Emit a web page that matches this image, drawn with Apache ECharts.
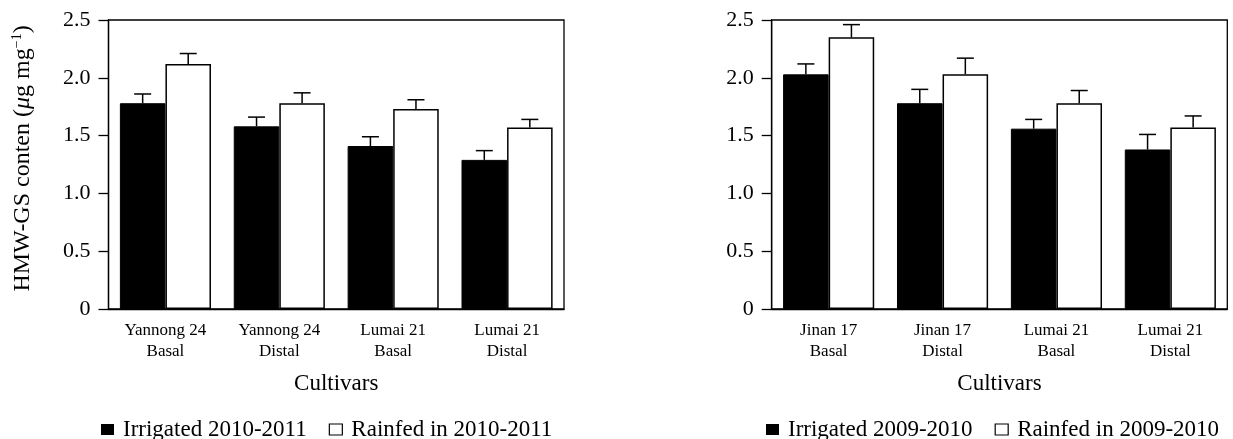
<!DOCTYPE html>
<html>
<head>
<meta charset="utf-8">
<script src="https://cdn.jsdelivr.net/npm/echarts@6/dist/echarts.min.js"></script>
<style>
html,body{margin:0;padding:0;background:#fff;}
#chart{width:1233px;height:439px;}
</style>
</head>
<body>
<div id="chart"></div>
<script>
// ---- data ----
const categoriesLeft = ['Yannong 24\nBasal', 'Yannong 24\nDistal', 'Lumai 21\nBasal', 'Lumai 21\nDistal'];
const categoriesRight = ['Jinan 17\nBasal', 'Jinan 17\nDistal', 'Lumai 21\nBasal', 'Lumai 21\nDistal'];
const yTickLabels = ['0', '0.5', '1.0', '1.5', '2.0', '2.5'];

const seriesNamesLeft = ['Irrigated 2010-2011', 'Rainfed in 2010-2011'];
const seriesNamesRight = ['Irrigated 2009-2010', 'Rainfed in 2009-2010'];

const irrigatedLeft = [1.78, 1.58, 1.41, 1.29];
const irrigatedLeftErr = [0.08, 0.08, 0.08, 0.08];
const rainfedLeft = [2.12, 1.78, 1.73, 1.57];
const rainfedLeftErr = [0.09, 0.09, 0.08, 0.07];

const irrigatedRight = [2.03, 1.78, 1.56, 1.38];
const irrigatedRightErr = [0.09, 0.12, 0.08, 0.13];
const rainfedRight = [2.35, 2.03, 1.78, 1.57];
const rainfedRightErr = [0.11, 0.14, 0.11, 0.10];

// ---- chart ----
const FONT = 'Liberation Serif';
const chart = echarts.init(document.getElementById('chart'), null, {renderer: 'canvas'});

function errRender(sign) {
  return function (params, api) {
    const i = api.value(0), v = api.value(1), e = api.value(2);
    const base = api.coord([i, v]);
    const top = api.coord([i, v + e]);
    const band = api.size([1, 0])[0];
    const x = base[0] + sign * band * 0.2;
    const half = 8.5;
    const st = {stroke: '#000', lineWidth: 1.5};
    return {
      type: 'group',
      children: [
        {type: 'line', shape: {x1: x, y1: base[1], x2: x, y2: top[1]}, style: st},
        {type: 'line', shape: {x1: x - half, y1: top[1], x2: x + half, y2: top[1]}, style: st}
      ]
    };
  };
}
function errData(vals, errs) { return vals.map((v, i) => [i, v, errs[i]]); }

function yAxisCfg(gridIndex, withName) {
  const cfg = {
    type: 'value', gridIndex: gridIndex, min: 0, max: 2.5, interval: 0.5,
    axisLine: {show: true, lineStyle: {color: '#000', width: 1.3}},
    axisTick: {show: true, length: 10, lineStyle: {color: '#000', width: 1.3}},
    splitLine: {show: false},
    axisLabel: {
      color: '#000', fontFamily: FONT, fontSize: 22, margin: 18,
      formatter: function (v) { return yTickLabels[Math.round(v / 0.5)]; }
    }
  };
  if (withName) {
    cfg.name = 'HMW-GS conten ({i|μ}g mg{sup|−1})';
    cfg.nameLocation = 'middle';
    cfg.nameGap = 72;
    cfg.nameTextStyle = {
      color: '#000', fontFamily: FONT, fontSize: 24, lineHeight: 28,
      padding: [0, 0, 0, 12],
      rich: {
        i: {fontFamily: FONT, fontSize: 24, fontStyle: 'italic', color: '#000', lineHeight: 28},
        sup: {fontFamily: FONT, fontSize: 14, color: '#000', lineHeight: 28, padding: [0, 0, 10, 0]}
      }
    };
  }
  return cfg;
}
function xAxisCfg(gridIndex, cats) {
  return {
    type: 'category', gridIndex: gridIndex, data: cats,
    axisLine: {show: true, lineStyle: {color: '#000', width: 1.3}},
    axisTick: {show: false},
    axisLabel: {color: '#000', fontFamily: FONT, fontSize: 17, lineHeight: 21, margin: 11, interval: 0},
    name: 'Cultivars', nameLocation: 'middle', nameGap: 63,
    nameTextStyle: {color: '#000', fontFamily: FONT, fontSize: 23}
  };
}
function barSeries(name, data, idx, filled) {
  return {
    name: name, type: 'bar', xAxisIndex: idx, yAxisIndex: idx, data: data,
    barWidth: '40%', barGap: '0%',
    itemStyle: filled ? {color: '#000', borderColor: '#000', borderWidth: 1}
                      : {color: '#fff', borderColor: '#000', borderWidth: 1.5},
    emphasis: {disabled: true}, z: 2
  };
}
function errSeries(vals, errs, idx, sign) {
  return {
    type: 'custom', xAxisIndex: idx, yAxisIndex: idx,
    renderItem: errRender(sign), data: errData(vals, errs), z: 3, silent: true
  };
}
function legendCfg(left, names) {
  return {
    left: left, top: 413, orient: 'horizontal', itemGap: 22,
    itemWidth: 13, itemHeight: 11, icon: 'rect',
    textStyle: {color: '#000', fontFamily: FONT, fontSize: 23, padding: [0, 0, 0, 4]},
    selectedMode: false,
    data: [
      {name: names[0], itemStyle: {color: '#000', borderColor: '#000', borderWidth: 0}},
      {name: names[1], itemStyle: {color: '#fff', borderColor: '#000', borderWidth: 1.2}}
    ]
  };
}

const option = {
  animation: false,
  backgroundColor: '#fff',
  grid: [
    {left: 108.5, right: 669, top: 20, bottom: 130, show: true, borderColor: '#000', borderWidth: 1.3, containLabel: false},
    {left: 771.7, right: 5.7, top: 20, bottom: 130, show: true, borderColor: '#000', borderWidth: 1.3, containLabel: false}
  ],
  xAxis: [xAxisCfg(0, categoriesLeft), xAxisCfg(1, categoriesRight)],
  yAxis: [yAxisCfg(0, true), yAxisCfg(1, false)],
  legend: [legendCfg(96, seriesNamesLeft), legendCfg(761, seriesNamesRight)],
  series: [
    barSeries(seriesNamesLeft[0], irrigatedLeft, 0, true),
    barSeries(seriesNamesLeft[1], rainfedLeft, 0, false),
    errSeries(irrigatedLeft, irrigatedLeftErr, 0, -1),
    errSeries(rainfedLeft, rainfedLeftErr, 0, 1),
    barSeries(seriesNamesRight[0], irrigatedRight, 1, true),
    barSeries(seriesNamesRight[1], rainfedRight, 1, false),
    errSeries(irrigatedRight, irrigatedRightErr, 1, -1),
    errSeries(rainfedRight, rainfedRightErr, 1, 1)
  ]
};
chart.setOption(option);
</script>
</body>
</html>
